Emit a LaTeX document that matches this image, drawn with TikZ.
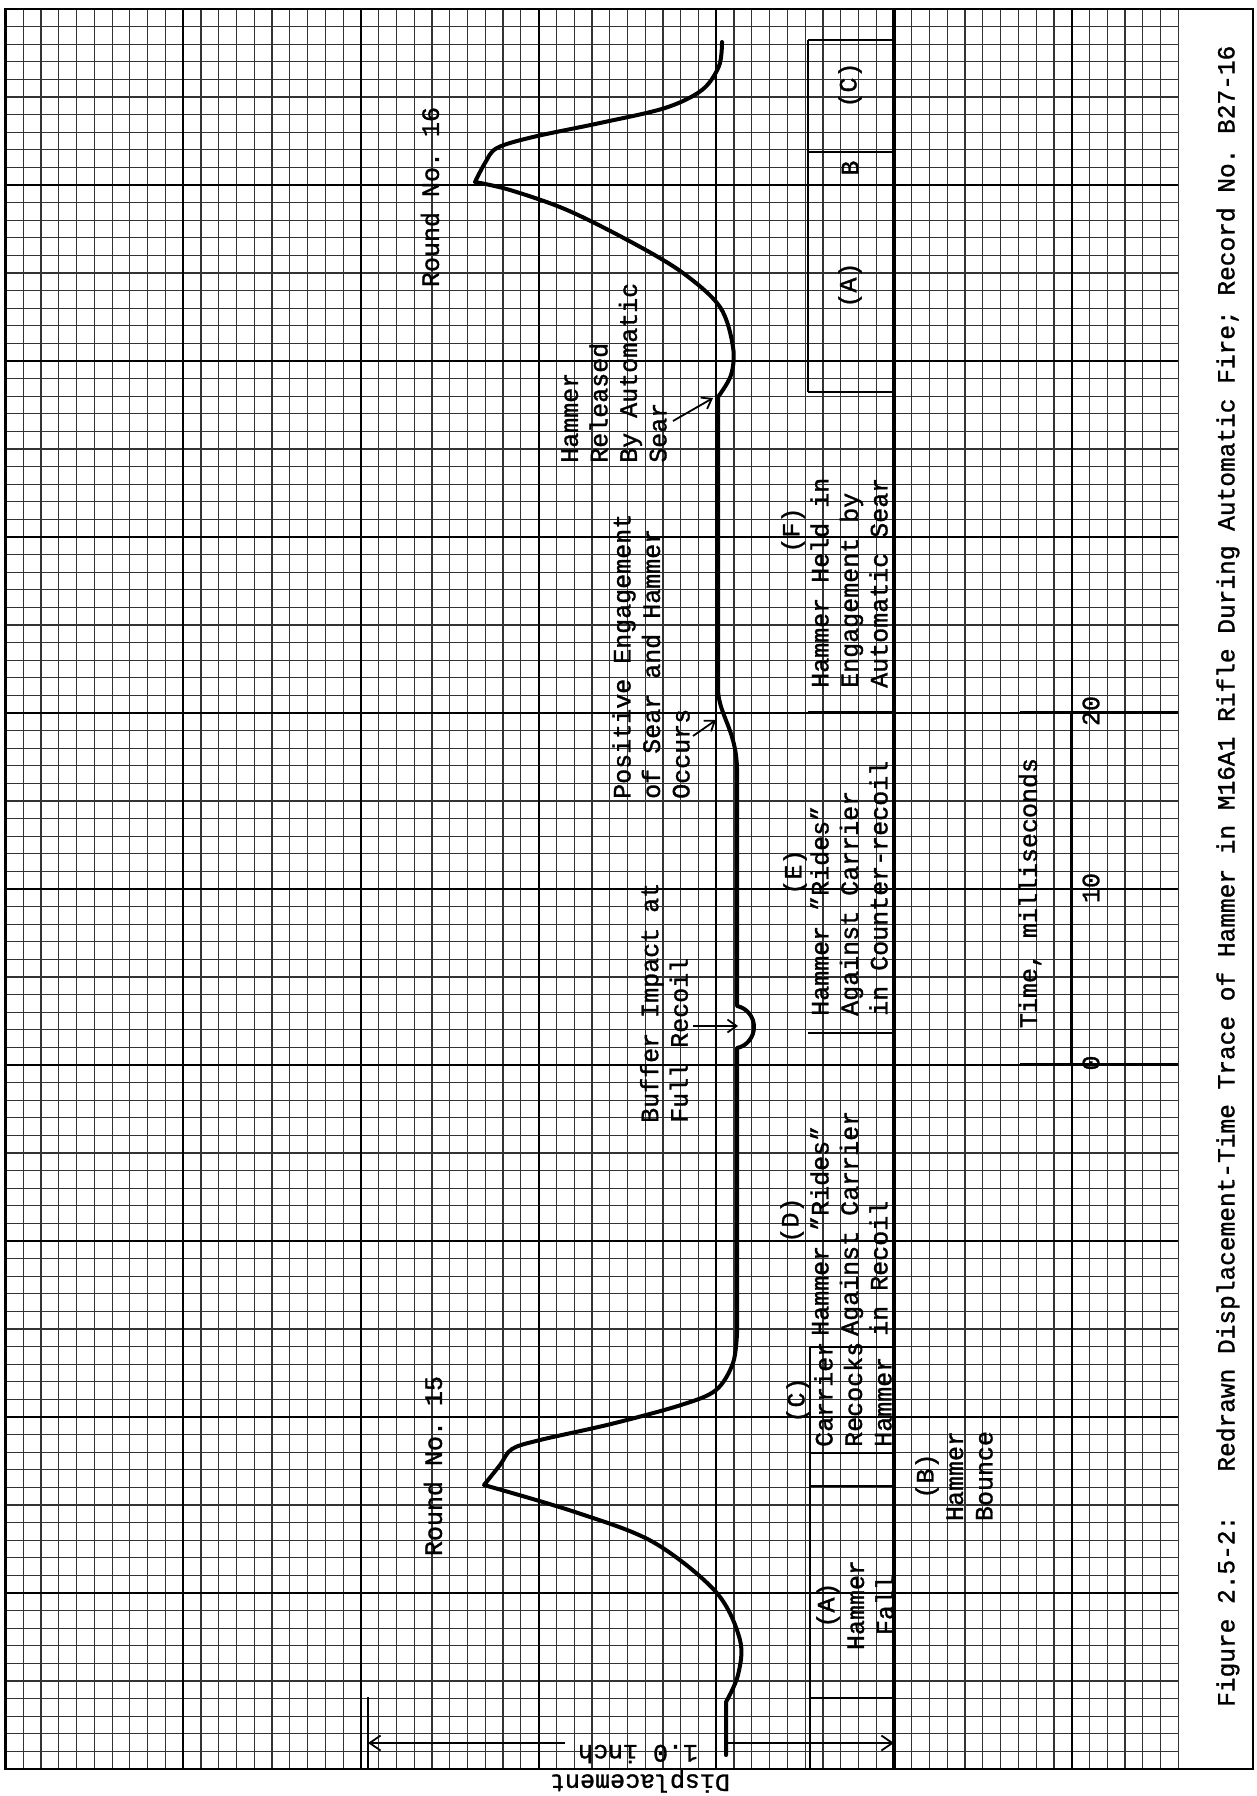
\documentclass[tikz,border=0pt]{standalone}
\usepackage{fontspec}
\setmainfont{Liberation Mono}[FakeBold=1.3]
\usetikzlibrary{arrows.meta}

\begin{document}
\frenchspacing
\begin{tikzpicture}[x=1pt,y=-1pt,
	minor/.style={line width=1.2pt,black!80},
	major/.style={line width=2.2pt,black},
	trace/.style={line width=4pt,line join=round,line cap=round},
	tbl/.style={line width=1.8pt},
	lbl/.style={font=\fontsize{25}{29.5}\selectfont,inner sep=0pt,align=left},
	vlbl/.style={lbl,rotate=90},
	pointer/.style={line width=1.8pt,-{Straight Barb[length=9pt,width=13pt,line width=1.8pt]}},
	dim/.style={line width=1.8pt,-{Straight Barb[length=11pt,width=15pt,line width=1.8pt]}}]
			%%%%% START %%%%%
			\useasboundingbox (0,0) rectangle (1257,1796);
			
			%%%%% GRID %%%%%
			\foreach \i in {0,...,66}
				\draw[minor] ({5.5+17.77*\i},9) -- ({5.5+17.77*\i},1769);
			\foreach \j in {0,...,100}
				\draw[minor] (5.5,{9+17.6*\j}) -- (1178.3,{9+17.6*\j});
			\foreach \i in {0,10,...,60}
				\draw[major] ({5.5+17.77*\i},9) -- ({5.5+17.77*\i},1769);
			\foreach \j in {0,10,...,100}
				\draw[major] (5.5,{9+17.6*\j}) -- (1178.3,{9+17.6*\j});
			\draw[line width=2.6pt] (5.5,9) rectangle (1253,1769);
			
			%%%%% TRACE %%%%%
			\draw[trace] plot[smooth,tension=0.55] coordinates {(722,42) (719,66) (702,90) (665,108) (600,123) (533,137) (497,148) (485,163) (475,182)}
				-- plot[smooth,tension=0.55] coordinates {(475,182) (510,190) (567,210) (633,243) (683,273) (720,307) (733,347) (731,375) (718,397)}
				-- (718,690) .. controls (719,715) and (736,730) .. (737,768)
				-- (737,1006) .. controls (747,1008) and (754,1017) .. (754,1027)
				.. controls (754,1037) and (747,1046) .. (737,1048)
				-- (737,1333)
				-- plot[smooth,tension=0.55] coordinates {(737,1333) (733,1363) (716,1390) (681,1405) (611,1424) (540,1440) (512,1449) (500,1465) (484,1485)}
				-- plot[smooth,tension=0.55] coordinates {(484,1485) (575,1512) (653,1542) (716,1592) (740,1640) (738,1675) (726,1702)}
				-- (726,1755);
			
			%%%%% TABLE %%%%%
			\draw[line width=4pt] (894,9) -- (894,1769);
			\draw[tbl] (808,40) -- (894,40);
			\draw[tbl] (808,152) -- (894,152);
			\draw[tbl] (808,392) -- (894,392);
			\draw[tbl] (808,40) -- (808,392);
			\draw[tbl] (808,712) -- (894,712);
			\draw[tbl] (808,1033) -- (894,1033);
			\draw[tbl] (810,1347) -- (894,1347);
			\draw[tbl] (810,1453) -- (894,1453);
			\draw[tbl] (810,1486) -- (894,1486);
			\draw[tbl] (810,1698) -- (894,1698);
			\draw[tbl] (810,1347) -- (810,1769);
			
			\node[vlbl] (cellC) at (850,85) {(C)};
			\node[vlbl] (cellB) at (850,168) {B};
			\node[vlbl] (cellA) at (850,285) {(A)};
			\node[vlbl] (tagF) at (793,530) {(F)};
			\node[vlbl,anchor=west] (cellF) at (849,688) {Hammer Held in\\Engagement by\\Automatic Sear};
			\node[vlbl] (tagE) at (795,872) {(E)};
			\node[vlbl,anchor=west] (cellE) at (849,1016) {Hammer "Rides"\\Against Carrier\\in Counter-recoil};
			\node[vlbl] (tagD) at (792,1220) {(D)};
			\node[vlbl,anchor=west] (cellD) at (849,1336) {Hammer "Rides"\\Against Carrier\\in Recoil};
			\node[vlbl] (tagC) at (798,1400) {(C)};
			\node[vlbl,anchor=west] (cellCarrier) at (853,1447) {Carrier\\Recocks\\Hammer};
			\node[vlbl,align=center] (cellFall) at (855,1605) {(A)\\Hammer\\Fall};
			\node[vlbl,align=center] (tagB) at (954,1476) {(B)\\Hammer\\Bounce};
			
			%%%%% NOTES %%%%%
			\node[vlbl] (round16) at (430,197) {Round No. 16};
			\node[vlbl] (round15) at (433,1466) {Round No. 15};
			\node[vlbl,anchor=west] (released) at (614,463) {Hammer\\Released\\By Automatic\\Sear};
			\node[vlbl,anchor=west] (engage) at (651,799) {Positive Engagement\\of Sear and Hammer\\Occurs};
			\node[vlbl,anchor=west] (buffer) at (664,1123) {Buffer Impact at\\Full Recoil};
			
			\coordinate (searTail) at (673,421);
			\coordinate (searHit) at (713,398);
			\coordinate (occTail) at (693,736);
			\coordinate (occHit) at (716,720);
			\coordinate (bufTail) at (693,1026);
			\coordinate (bufHit) at (738,1026);
			\draw[pointer] (searTail) -- (searHit);
			\draw[pointer] (occTail) -- (occHit);
			\draw[pointer] (bufTail) -- (bufHit);
			
			%%%%% TIME SCALE %%%%%
			\draw[line width=2.8pt] (1020,712) -- (1178,712);
			\draw[line width=2.8pt] (1020,1064) -- (1178,1064);
			\draw[line width=2.8pt] (1071.7,712) -- (1071.7,1064);
			\node[vlbl] (t0) at (1091,1063) {0};
			\node[vlbl] (t10) at (1091,888) {10};
			\node[vlbl] (t20) at (1091,711) {20};
			\node[vlbl] (timeaxis) at (1030,893) {Time, milliseconds};
			
			%%%%% ONE INCH %%%%%
			\coordinate (inchL) at (368,1743);
			\coordinate (inchR) at (894,1743);
			\coordinate (gapL) at (565,1743);
			\coordinate (gapR) at (726,1743);
			\draw[line width=1.8pt] (368,1697) -- (368,1769);
			\draw[dim] (gapL) -- (inchL);
			\draw[dim] (gapR) -- (inchR);
			\node[lbl,rotate=180] (inch) at (638,1754) {1.0 inch};
			\node[lbl,rotate=180] (displ) at (640,1781) {Displacement};
			
			%%%%% CAPTION %%%%%
			\node[vlbl,font=\fontsize{24.5}{29}\selectfont,anchor=west] (caption) at (1228,1707) {Figure 2.5-2:~~~Redrawn Displacement-Time Trace of Hammer in M16A1 Rifle During Automatic Fire; Record No. B27-16};
			
			%%%%% END %%%%%
\end{tikzpicture}
\end{document}
